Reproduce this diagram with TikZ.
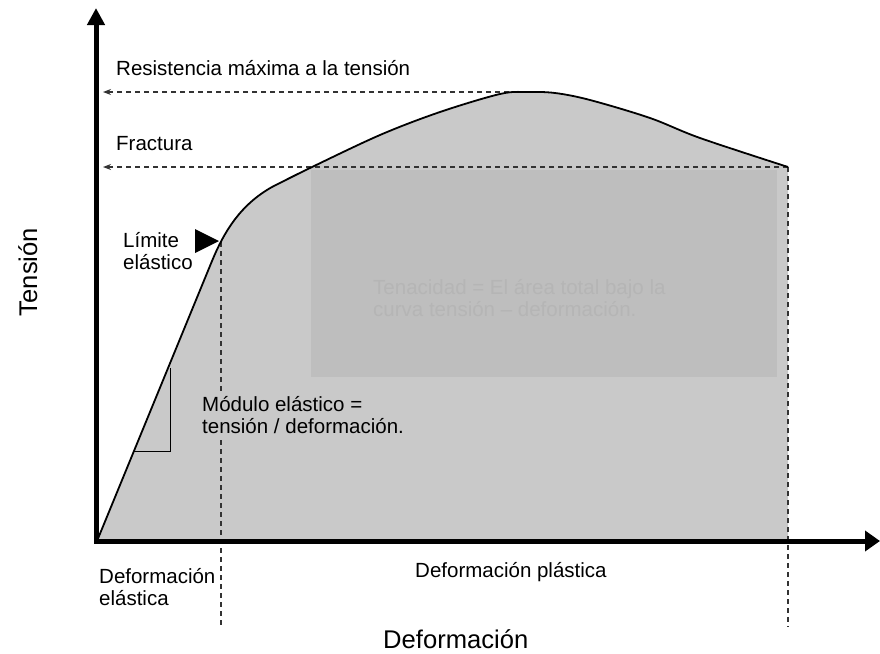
\documentclass[tikz,border=0pt]{standalone}
\usepackage{fontspec}
\setmainfont{Liberation Sans}
\usetikzlibrary{arrows.meta}
\definecolor{areagray}{HTML}{C9C9C9}
\definecolor{innergray}{HTML}{BEBEBE}
\definecolor{faintgray}{HTML}{B5B5B5}
\definecolor{dashgray}{HTML}{333333}
\tikzset{
  lbl/.style={font=\fontsize{20.5}{21.5}\selectfont, inner sep=0pt, align=left},
  axlbl/.style={font=\fontsize{25.6}{28}\selectfont, inner sep=0pt},
  guide/.style={dashgray, line width=1.3pt, dash pattern=on 5pt off 4pt},
  guidearrow/.style={guide, -{Stealth[length=8pt,width=6pt]}},
  axisline/.style={line width=5pt, line join=miter},
  curveline/.style={line width=1.8pt, line join=round}
}
\begin{document}
\begin{tikzpicture}[x=1pt,y=-1pt]
\useasboundingbox (0,0) rectangle (880,653);
% key points
\coordinate (O) at (97,541);
\coordinate (S) at (212,261);
\coordinate (K) at (272,187);
\coordinate (EL) at (220,242);
\coordinate (P) at (527,92);
\coordinate (F) at (788,167);
\coordinate (Fb) at (788,541);
\coordinate (Ytop) at (96,8);
\coordinate (Xend) at (880,541);
\coordinate (Corner) at (96,541);
\coordinate (Ymax) at (103,92);
\coordinate (Yfr) at (103,167);
\coordinate (ELlow) at (221,627);
\coordinate (ELtop) at (221,242);
\coordinate (Flow) at (788,627);
\def\curvepath{(O) -- (S) .. controls (224,232) and (240,205) .. (K) -- plot[smooth,tension=0.55] coordinates {(272,187) (310,168) (380,135) (440,112) (500,94) (527,92) (555,93) (590,100) (650,118) (700,138) (788,167)}}
% area under curve
\fill[areagray] \curvepath -- (Fb) -- cycle;
% inner rectangle
\fill[innergray] (311,170) rectangle (777,377);
\node[lbl, text=faintgray, anchor=base west] (ten) at (373,316) {Tenacidad = El área total bajo la\\curva tensión – deformación.};
% guides
\draw[guide] (ELtop) -- (ELlow);
\draw[guide] (F) -- (Flow);
\draw[guidearrow] (P) -- (Ymax);
\draw[guidearrow] (F) -- (Yfr);
% curve
\draw[curveline] \curvepath;
% slope triangle
\coordinate (st1) at (170,368);
\coordinate (st2) at (170,451);
\coordinate (st3) at (134,451);
\draw[line width=1pt] (st1) -- (st2) -- (st3);
% elastic limit marker
\fill (195,229) -- (195,253) -- (219,241) -- cycle;
% modulus label (covers dashed line)
\node[lbl, fill=areagray, inner sep=3pt, anchor=base west] (mod) at (199,433) {Módulo elástico =\\tensión / deformación.};
% axes
\draw[axisline, {Triangle[width=17pt,length=17pt]}-{Triangle[width=20pt,length=15pt]}] (Ytop) -- (Corner) -- (Xend);
% labels
\node[lbl, anchor=base west] (res) at (116,75) {Resistencia máxima a la tensión};
\node[lbl, anchor=base west] (frac) at (116,150) {Fractura};
\node[lbl, anchor=base west] (lim) at (123,269) {Límite\\elástico};
\node[lbl, anchor=base west] (delas) at (99,605) {Deformación\\elástica};
\node[lbl, anchor=base west] (dplas) at (415,577) {Deformación plástica};
\node[axlbl, anchor=base west] (xlab) at (383,648) {Deformación};
\node[axlbl, rotate=90, anchor=base] (ylab) at (37,272) {Tensión};
\end{tikzpicture}
\end{document}
